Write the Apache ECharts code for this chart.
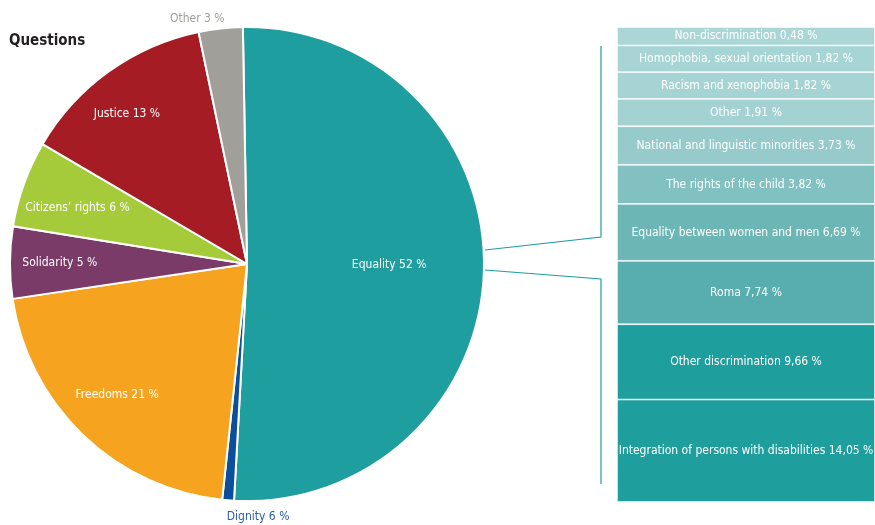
<!DOCTYPE html>
<html>
<head>
<meta charset="utf-8">
<script src="https://cdn.jsdelivr.net/npm/echarts@6/dist/echarts.min.js"></script>
<style>
html, body { margin: 0; padding: 0; background: #fff; }
#chart { width: 875px; height: 525px; }
</style>
</head>
<body>
<div id="chart"></div>
<script>
// questions by chapter (slice sizes as drawn, percentages as printed)
var pieNames = ["Equality", "Dignity", "Freedoms", "Solidarity", "Citizens’ rights", "Justice", "Other"];
var pieValues = [51.2, 0.8, 21.0, 4.9, 5.9, 13.3, 3.0];
var pieLabelPct = [52, 6, 21, 5, 6, 13, 3];
var pieColors = ["#1f9e9f", "#0b4f9c", "#f6a31f", "#7a3b69", "#a6cb3a", "#a51c24", "#a19f9a"];

// breakdown of equality, top to bottom
var eqNames = [
  "Non-discrimination",
  "Homophobia, sexual orientation",
  "Racism and xenophobia",
  "Other",
  "National and linguistic minorities",
  "The rights of the child",
  "Equality between women and men",
  "Roma",
  "Other discrimination",
  "Integration of persons with disabilities"
];
var eqValues = [0.48, 1.82, 1.82, 1.91, 3.73, 3.82, 6.69, 7.74, 9.66, 14.05];
var eqColors = ["#aad6d6", "#a7d4d4", "#a6d3d3", "#a4d2d2", "#97cbcb", "#82c1c1", "#6db6b6", "#58aeae", "#1f9e9e", "#1f9e9e"];

var FONT = "'Liberation Sans Narrow', 'Arial Narrow', 'DejaVu Sans Condensed', sans-serif";
var PIE_CX = 247, PIE_CY = 264, PIE_R = 237, START = 91;
// label distance from centre as a share of the radius, plus small nudges
var labelRadius = [0.6, 1.07, 0.78, 0.79, 0.76, 0.81, 1.04];
var labelDx = [0, 0, -2, 0, 0, -8, 5];
var labelDy = [-2, 0, -3, 0, 5, 6, 0];
// small segments get a little extra height so their labels fit
var EQ_PAD = 2.5;

var pieTotal = 0;
pieValues.forEach(function (v) { pieTotal += v; });

function midAngle(i) {
  var cum = 0;
  for (var j = 0; j < i; j++) cum += pieValues[j];
  return (START - (cum + pieValues[i] / 2) / pieTotal * 360) * Math.PI / 180;
}

var pieData = pieNames.map(function (n, i) {
  var item = { name: n, value: pieValues[i], itemStyle: { color: pieColors[i] } };
  if (i === 1) item.label = { color: "#2a5ea8" };
  if (i === 6) item.label = { color: "#a19f9a" };
  return item;
});

var eqSeries = eqNames.map(function (n, i) {
  return {
    name: n,
    type: "bar",
    stack: "eq",
    barWidth: "100%",
    data: [eqValues[i] + EQ_PAD],
    itemStyle: { color: eqColors[i], borderColor: "rgba(255,255,255,0.8)", borderWidth: 0.8 },
    label: {
      show: true,
      position: "inside",
      color: "#fff",
      fontSize: 12,
      fontFamily: FONT,
      formatter: n + " " + eqValues[i].toFixed(2).replace(".", ",") + " %"
    }
  };
});

var eqTotal = 0;
eqValues.forEach(function (v) { eqTotal += v + EQ_PAD; });

var chart = echarts.init(document.getElementById("chart"));
chart.setOption({
  animation: false,
  title: {
    text: "Questions",
    left: 9,
    top: 34,
    padding: 0,
    textStyle: { fontSize: 15, fontWeight: "bold", color: "#231f20", fontFamily: FONT }
  },
  grid: { left: 617, right: 0, top: 27, bottom: 23 },
  xAxis: { type: "category", data: ["Equality"], show: false },
  yAxis: { type: "value", inverse: true, min: 0, max: eqTotal, show: false },
  graphic: [
    {
      type: "polyline",
      shape: { points: [[PIE_CX + PIE_R + 1, 250], [601, 237], [601, 46]] },
      style: { stroke: "#1f9e9f", lineWidth: 1.2, fill: null }
    },
    {
      type: "polyline",
      shape: { points: [[PIE_CX + PIE_R + 1, 270], [601, 279], [601, 484]] },
      style: { stroke: "#1f9e9f", lineWidth: 1.2, fill: null }
    }
  ],
  series: [
    {
      type: "pie",
      center: [PIE_CX, PIE_CY],
      radius: PIE_R,
      startAngle: START,
      clockwise: true,
      data: pieData,
      itemStyle: { borderColor: "#fff", borderWidth: 2 },
      label: {
        show: true,
        position: "inside",
        color: "#fff",
        fontSize: 12,
        fontFamily: FONT,
        formatter: function (p) {
          return pieNames[p.dataIndex] + " " + pieLabelPct[p.dataIndex] + " %";
        }
      },
      labelLine: { show: false },
      labelLayout: function (p) {
        var i = p.dataIndex, a = midAngle(i), r = PIE_R * labelRadius[i];
        var out = labelRadius[i] > 1;
        return {
          x: PIE_CX + r * Math.cos(a) + labelDx[i],
          y: PIE_CY - r * Math.sin(a) + labelDy[i],
          align: out ? (i === 1 ? "left" : "right") : "center",
          verticalAlign: "middle"
        };
      }
    }
  ].concat(eqSeries)
});
</script>
</body>
</html>
